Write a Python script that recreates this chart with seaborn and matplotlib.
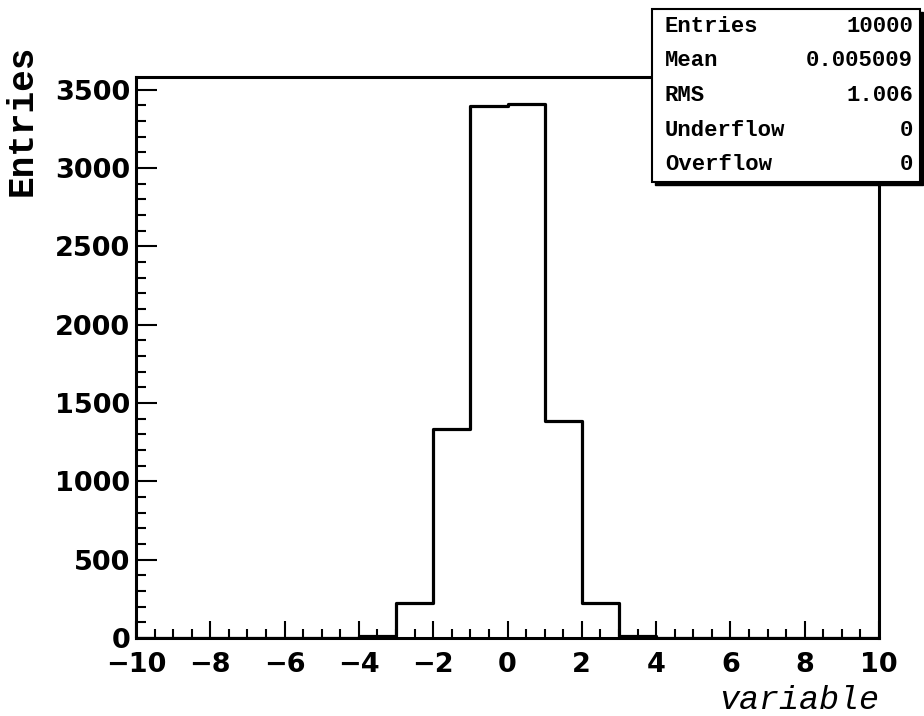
import numpy as np
import pandas as pd
import matplotlib
matplotlib.use("Agg")
import matplotlib.pyplot as plt
from matplotlib.patches import Rectangle
import seaborn as sns

# ---- data ----
bin_edges = list(range(-10, 11))
bin_counts = [0, 0, 0, 0, 0, 0, 13, 225, 1333, 3397,
              3410, 1386, 225, 11, 0, 0, 0, 0, 0, 0]
x_ticks = [-10, -8, -6, -4, -2, 0, 2, 4, 6, 8, 10]
y_ticks = [0, 500, 1000, 1500, 2000, 2500, 3000, 3500]
stat_names = ["Entries", "Mean", "RMS", "Underflow", "Overflow"]
stat_values = ["10000", "0.005009", "1.006", "0", "0"]
x_title = "variable"
y_title = "Entries"

centers = [(bin_edges[i] + bin_edges[i + 1]) / 2 for i in range(len(bin_counts))]
df = pd.DataFrame({"x": centers, "w": bin_counts})

sns.set_theme(style="white")
plt.rcParams["font.family"] = ["DejaVu Sans"]

W, H = 924, 716
fig = plt.figure(figsize=(W / 100, H / 100), dpi=100)
fig.patch.set_facecolor("white")

def fx(px):
    return px / W

def fy(py):
    return 1 - py / H

ax_l, ax_r, ax_t, ax_b = 136, 879, 77, 638
ax = fig.add_axes([fx(ax_l), fy(ax_b), fx(ax_r) - fx(ax_l), fy(ax_t) - fy(ax_b)])
ax.set_facecolor("white")

sns.histplot(data=df, x="x", weights="w", bins=bin_edges, element="step",
             fill=False, color="black", linewidth=2.3, ax=ax)

ax.set_xlim(-10, 10)
ax.set_ylim(0, max(bin_counts) * 1.05)
ax.set_xlabel("")
ax.set_ylabel("")

for s in ax.spines.values():
    s.set_visible(True)
    s.set_color("black")
    s.set_linewidth(2.2)

ax.set_xticks(x_ticks)
ax.set_xticklabels([("\u2212" + str(abs(v))) if v < 0 else str(v) for v in x_ticks])
ax.set_yticks(y_ticks)
ax.set_yticklabels([str(v) for v in y_ticks])
ax.xaxis.set_minor_locator(matplotlib.ticker.MultipleLocator(0.5))
ax.yaxis.set_minor_locator(matplotlib.ticker.MultipleLocator(100))

ax.tick_params(axis="x", which="major", direction="in", length=12, width=1.5,
               pad=10, labelsize=19.5, bottom=True, top=False, color="black")
ax.tick_params(axis="x", which="minor", direction="in", length=6.5, width=1.5,
               bottom=True, top=False, color="black")
ax.tick_params(axis="y", which="major", direction="in", length=15, width=1.5,
               pad=4, labelsize=19.5, left=True, right=False, color="black")
ax.tick_params(axis="y", which="minor", direction="in", length=7, width=1.5,
               left=True, right=False, color="black")
for lab in ax.get_xticklabels() + ax.get_yticklabels():
    lab.set_fontweight("bold")
    lab.set_color("black")

# axis titles (ROOT style)
fig.text(fx(879), fy(709), x_title, ha="right", va="baseline",
         fontsize=24, family="Liberation Mono", style="italic", color="black")
fig.text(fx(40), fy(45), y_title, ha="right", va="top", rotation=90,
         fontsize=26, family="Liberation Mono", fontweight="bold", color="black")

# stats box
bx0, by0, bx1, by1 = 652, 9, 920, 182
shadow = Rectangle((fx(bx0 + 3), fy(by1 + 3)), fx(bx1) - fx(bx0), fy(by0) - fy(by1),
                   transform=fig.transFigure, facecolor="black", edgecolor="black",
                   zorder=10)
box = Rectangle((fx(bx0), fy(by1)), fx(bx1) - fx(bx0), fy(by0) - fy(by1),
                transform=fig.transFigure, facecolor="white", edgecolor="black",
                linewidth=1.5, zorder=11)
fig.add_artist(shadow)
fig.add_artist(box)
row_h = (by1 - by0) / len(stat_names)
for i, (n, v) in enumerate(zip(stat_names, stat_values)):
    yc = by0 + row_h * (i + 0.5)
    fig.text(fx(665), fy(yc), n, ha="left", va="center", fontsize=16,
             family="Liberation Mono", fontweight="bold", color="black", zorder=12)
    fig.text(fx(913), fy(yc), v, ha="right", va="center", fontsize=16,
             family="Liberation Mono", fontweight="bold", color="black", zorder=12)

fig.savefig("out.png", dpi=100, facecolor="white")
